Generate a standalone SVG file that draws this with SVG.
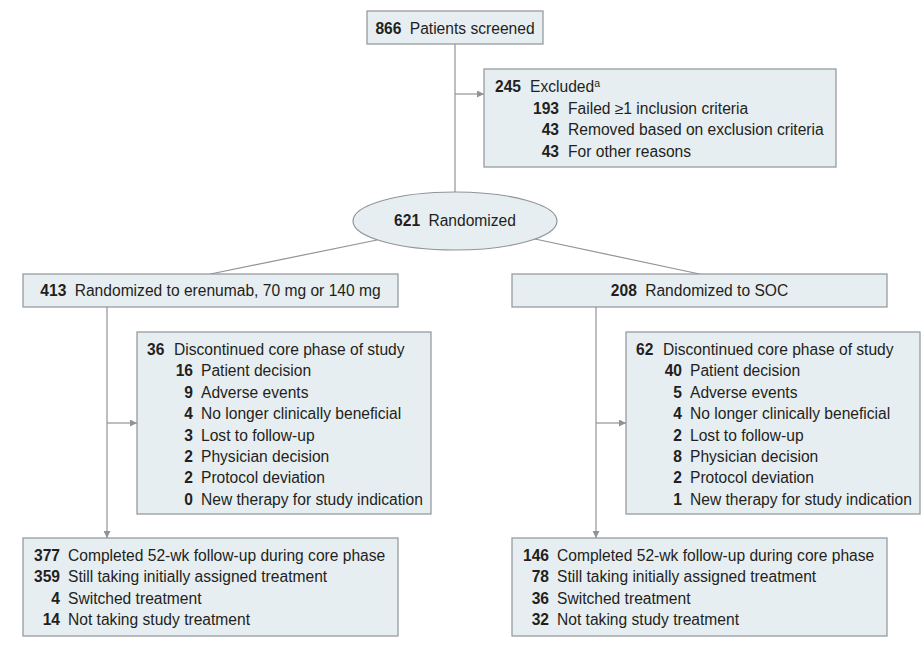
<svg xmlns="http://www.w3.org/2000/svg" width="921" height="653" viewBox="0 0 921 653">
<defs>
<style>
.box{fill:#e7eef2;stroke:#8f9498;stroke-width:1.2}
.ln{fill:none;stroke:#8f9498;stroke-width:1.2}
text{font-family:"Liberation Sans",Arial,sans-serif;font-size:15.6px;fill:#231f20}
.b{font-weight:bold}
.e{text-anchor:end}
.m{text-anchor:middle}
</style>
<marker id="ah" viewBox="0 0 10 10" refX="10" refY="5" markerWidth="7" markerHeight="7" markerUnits="userSpaceOnUse" orient="auto">
<path d="M0,0 L10,5 L0,10 Z" fill="#8f9498"/>
</marker>
</defs>
<rect width="921" height="653" fill="#ffffff"/>
<g id="connectors">
<line class="ln" x1="455" y1="44" x2="455" y2="192"/>
<line class="ln" x1="455" y1="94" x2="484" y2="94" marker-end="url(#ah)"/>
<line class="ln" x1="377" y1="240" x2="210.5" y2="274"/>
<line class="ln" x1="535" y1="239" x2="699.5" y2="274"/>
<line class="ln" x1="107" y1="307" x2="107" y2="538" marker-end="url(#ah)"/>
<line class="ln" x1="107" y1="423" x2="137" y2="423" marker-end="url(#ah)"/>
<line class="ln" x1="596" y1="307" x2="596" y2="538" marker-end="url(#ah)"/>
<line class="ln" x1="596" y1="423" x2="626" y2="423" marker-end="url(#ah)"/>
</g>
<g id="screened">
<rect class="box" x="367" y="11" width="176" height="33"/>
<text x="455" y="34" class="m"><tspan class="b">866</tspan><tspan dx="4"> Patients screened</tspan></text>
</g>
<g id="excluded">
<rect class="box" x="484" y="69" width="352" height="98"/>
<text x="495" y="92" class="b">245</text><text x="530" y="92">Excluded<tspan font-size="10.5px" dy="-5">a</tspan></text>
<text x="559" y="113.5" class="b e">193</text><text x="568" y="113.5">Failed ≥1 inclusion criteria</text>
<text x="559" y="135" class="b e">43</text><text x="568" y="135">Removed based on exclusion criteria</text>
<text x="559" y="156.5" class="b e">43</text><text x="568" y="156.5">For other reasons</text>
</g>
<g id="randomized">
<ellipse class="box" cx="455" cy="221" rx="102" ry="29"/>
<text x="455" y="226" class="m"><tspan class="b">621</tspan><tspan dx="4"> Randomized</tspan></text>
</g>
<g id="erenumab">
<rect class="box" x="23" y="274" width="375" height="33"/>
<text x="210.5" y="296" class="m"><tspan class="b">413</tspan><tspan dx="4"> Randomized to erenumab, 70 mg or 140 mg</tspan></text>
</g>
<g id="soc">
<rect class="box" x="512" y="274" width="375" height="33"/>
<text x="699.5" y="296" class="m"><tspan class="b">208</tspan><tspan dx="4"> Randomized to SOC</tspan></text>
</g>
<g id="disc-erenumab">
<rect class="box" x="137" y="332" width="294" height="182"/>
<text x="147" y="355" class="b">36</text><text x="174" y="355">Discontinued core phase of study</text>
<text x="193" y="376.4" class="b e">16</text><text x="201" y="376.4">Patient decision</text>
<text x="193" y="397.8" class="b e">9</text><text x="201" y="397.8">Adverse events</text>
<text x="193" y="419.2" class="b e">4</text><text x="201" y="419.2">No longer clinically beneficial</text>
<text x="193" y="440.6" class="b e">3</text><text x="201" y="440.6">Lost to follow-up</text>
<text x="193" y="462" class="b e">2</text><text x="201" y="462">Physician decision</text>
<text x="193" y="483.4" class="b e">2</text><text x="201" y="483.4">Protocol deviation</text>
<text x="193" y="504.8" class="b e">0</text><text x="201" y="504.8">New therapy for study indication</text>
</g>
<g id="disc-soc">
<rect class="box" x="626" y="332" width="294" height="182"/>
<text x="636" y="355" class="b">62</text><text x="663" y="355">Discontinued core phase of study</text>
<text x="682" y="376.4" class="b e">40</text><text x="690" y="376.4">Patient decision</text>
<text x="682" y="397.8" class="b e">5</text><text x="690" y="397.8">Adverse events</text>
<text x="682" y="419.2" class="b e">4</text><text x="690" y="419.2">No longer clinically beneficial</text>
<text x="682" y="440.6" class="b e">2</text><text x="690" y="440.6">Lost to follow-up</text>
<text x="682" y="462" class="b e">8</text><text x="690" y="462">Physician decision</text>
<text x="682" y="483.4" class="b e">2</text><text x="690" y="483.4">Protocol deviation</text>
<text x="682" y="504.8" class="b e">1</text><text x="690" y="504.8">New therapy for study indication</text>
</g>
<g id="completed-erenumab">
<rect class="box" x="23" y="538" width="375" height="98"/>
<text x="60" y="561" class="b e">377</text><text x="68" y="561">Completed 52-wk follow-up during core phase</text>
<text x="60" y="582.4" class="b e">359</text><text x="68" y="582.4">Still taking initially assigned treatment</text>
<text x="60" y="603.8" class="b e">4</text><text x="68" y="603.8">Switched treatment</text>
<text x="60" y="625.2" class="b e">14</text><text x="68" y="625.2">Not taking study treatment</text>
</g>
<g id="completed-soc">
<rect class="box" x="512" y="538" width="375" height="98"/>
<text x="549" y="561" class="b e">146</text><text x="557" y="561">Completed 52-wk follow-up during core phase</text>
<text x="549" y="582.4" class="b e">78</text><text x="557" y="582.4">Still taking initially assigned treatment</text>
<text x="549" y="603.8" class="b e">36</text><text x="557" y="603.8">Switched treatment</text>
<text x="549" y="625.2" class="b e">32</text><text x="557" y="625.2">Not taking study treatment</text>
</g>
</svg>
